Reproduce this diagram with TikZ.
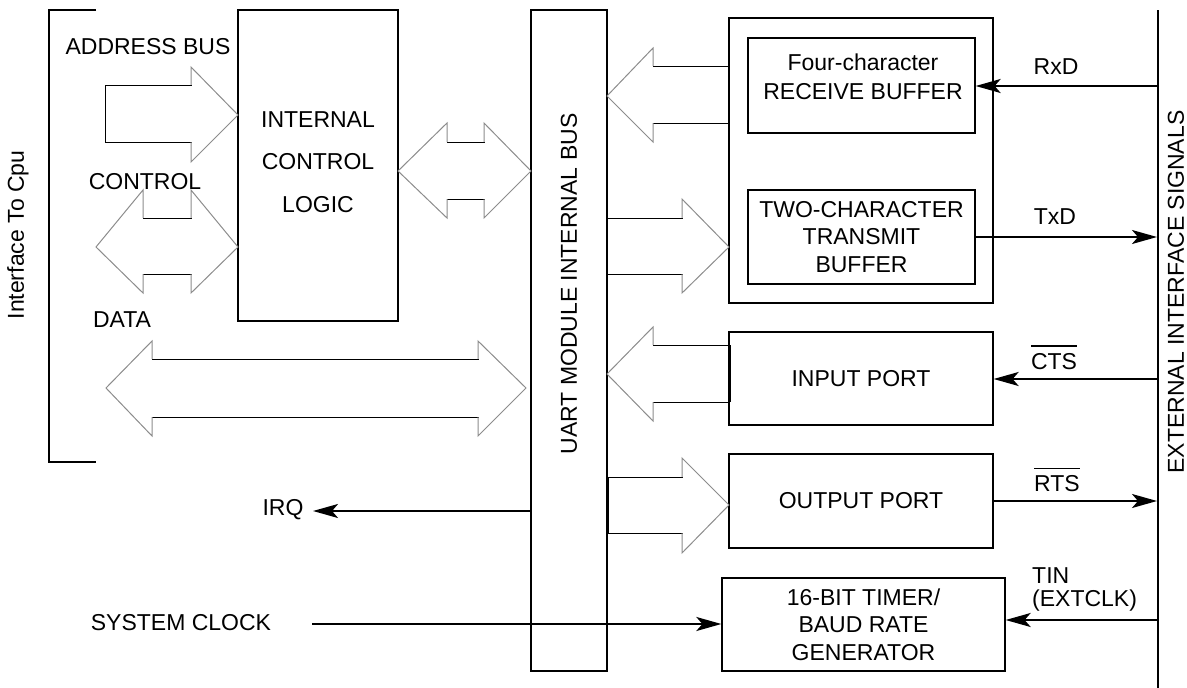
\documentclass[tikz,border=0pt]{standalone}
\usepackage{fontspec}
\setmainfont{Liberation Sans}
\usetikzlibrary{arrows.meta}
\newcommand\ovlt[1]{\vbox{\hrule height 1.3pt\kern 6.5pt\hbox{#1}}}
\begin{document}
\begin{tikzpicture}[x=1pt,y=-1pt,
  font=\fontsize{23}{27.5}\selectfont,
  box/.style={draw,line width=1.3pt,inner sep=0pt,align=center},
  lbl/.style={inner sep=0pt,align=center},
  sig/.style={line width=2pt,-{Stealth[length=25pt,width=14pt,inset=6pt]}},
  bar/.style={line width=1pt,line cap=rect},
  hd/.style={line width=1pt,draw=black!45},
  frame/.style={line width=1.3pt}]
\useasboundingbox (0,0) rectangle (1187,688);

% boxes
\node[box,minimum width=160,minimum height=311] (icl) at (318,165.5) {};
\node[box,minimum width=76,minimum height=661] (bus) at (569,340.5) {};
\node[box,minimum width=264,minimum height=285] (rtbox) at (861,160.5) {};
\node[box,minimum width=227,minimum height=95] (recv) at (861.5,85.5) {};
\node[box,minimum width=227,minimum height=94] (xmit) at (861.5,237) {TWO-CHARACTER\\TRANSMIT\\BUFFER};
\node[box,minimum width=264,minimum height=93] (inport) at (861,378.5) {INPUT PORT};
\node[box,minimum width=264,minimum height=94] (outport) at (861,501) {OUTPUT PORT};
\node[box,minimum width=283,minimum height=93] (timer) at (863.5,624.5) {16-BIT TIMER/\\BAUD RATE\\GENERATOR};

% texts in boxes
\node[lbl,font=\fontsize{23}{42.5}\selectfont] (icltxt) at (318,162) {INTERNAL\\CONTROL\\LOGIC};
\node[lbl,font=\fontsize{23}{29}\selectfont] (recvtxt) at (863,77) {Four-character\\RECEIVE BUFFER};
\node[lbl,rotate=90] (bustxt) at (569,284) {UART MODULE INTERNAL BUS};

% frames
\draw[frame] (96,10) -- (49,10) -- (49,462) -- (96,462);
\coordinate (extT) at (1158,10);
\coordinate (extB) at (1158,688);
\draw[frame] (extT) -- (extB);
\node[lbl,rotate=90] (cpu) at (18,235) {Interface To Cpu};
\node[lbl,rotate=90] (exttxt) at (1176,292) {EXTERNAL INTERFACE SIGNALS};

% left labels
\node[lbl] (laddr) at (148,47) {ADDRESS BUS};
\node[lbl] (lctrl) at (145,182) {CONTROL};
\node[lbl] (ldata) at (122,320) {DATA};

% block arrows
% address bus
\draw[bar] (191,85) -- (105,85) -- (105,142) -- (191,142);
\draw[hd] (191,85) -- (191,67) -- (238,115) -- (191,162) -- (191,142);
% control
\draw[bar] (143,218) -- (191,218) (143,274) -- (191,274);
\draw[hd] (143,218) -- (143,190) -- (96,247) -- (143,293) -- (143,274);
\draw[hd] (191,218) -- (191,190) -- (238,247) -- (191,293) -- (191,274);
% logic <-> bus
\draw[bar] (447,142) -- (484,142) (447,199) -- (484,199);
\draw[hd] (447,142) -- (447,123) -- (398,171) -- (447,218) -- (447,199);
\draw[hd] (484,142) -- (484,123) -- (531,171) -- (484,218) -- (484,199);
% data
\draw[bar] (152,359) -- (478,359) (152,417) -- (478,417);
\draw[hd] (152,359) -- (152,341) -- (106,388) -- (152,436) -- (152,417);
\draw[hd] (478,359) -- (478,341) -- (526,388) -- (478,436) -- (478,417);
% receive
\draw[bar] (729,66) -- (653,66) (729,123) -- (653,123);
\draw[hd] (653,66) -- (653,48) -- (607,96) -- (653,142) -- (653,123);
% transmit
\draw[bar] (607,218) -- (682,218) (607,274) -- (682,274);
\draw[hd] (682,218) -- (682,199) -- (729,247) -- (682,293) -- (682,274);
% input port
\draw[bar] (729,345) -- (653,345) (729,402) -- (653,402);
\draw[line width=1pt] (730.5,345) -- (730.5,402);
\draw[hd] (653,345) -- (653,327) -- (607,374) -- (653,421) -- (653,402);
% output port
\draw[bar] (682,477) -- (608.5,477) -- (608.5,533) -- (682,533);
\draw[hd] (682,477) -- (682,458) -- (729,505) -- (682,553) -- (682,533);

% signal arrows
\coordinate (rxd) at (1158,86);
\coordinate (txd) at (1157,237);
\coordinate (cts) at (1158,379);
\coordinate (rts) at (1157,501);
\coordinate (tin) at (1158,620);
\coordinate (irq) at (313,511);
\coordinate (clk) at (312,624);
\draw[sig] (rxd) -- (rxd -| recv.east);
\draw[sig] (xmit.east) -- (txd);
\draw[sig] (cts) -- (cts -| inport.east);
\draw[sig] (outport.east) -- (rts);
\draw[sig] (tin) -- (tin -| timer.east);
\draw[sig] (irq -| bus.west) -- (irq);
\draw[sig] (clk) -- (clk -| timer.west);

% signal labels
\node[lbl] (lrxd) at (1056,67) {RxD};
\node[lbl] (ltxd) at (1055,217) {TxD};
\node[lbl] (lcts) at (1054,357.5) {\ovlt{CTS}};
\node[lbl] (lrts) at (1057,480) {\ovlt{RTS}};
\node[lbl,align=left,anchor=north west,font=\fontsize{23}{23}\selectfont] (ltin) at (1032,567) {TIN\\(EXTCLK)};
\node[lbl] (lirq) at (283,510) {IRQ};
\node[lbl] (lclk) at (181,623) {SYSTEM CLOCK};
\end{tikzpicture}
\end{document}
